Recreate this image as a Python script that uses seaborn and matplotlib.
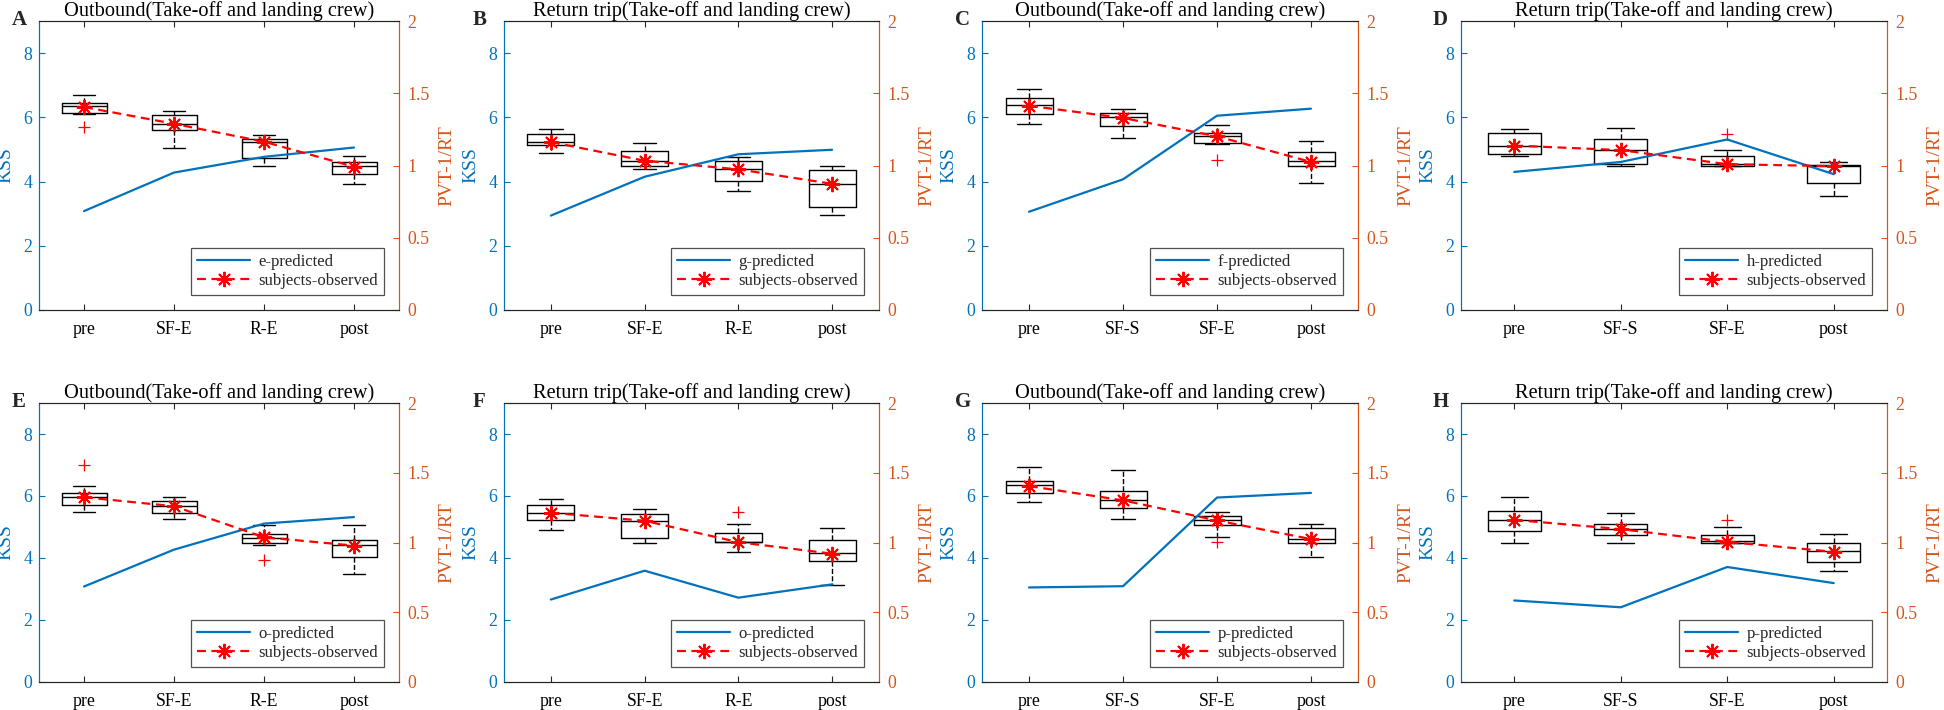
import matplotlib
matplotlib.use("Agg")
import matplotlib.pyplot as plt
import seaborn as sns
import numpy as np

sns.set_theme(style="white")
plt.rcParams["font.family"] = ["Liberation Serif", "DejaVu Serif"]
plt.rcParams["mathtext.fontset"] = "stix"

KSS_BLUE = "#0072BD"
PVT_ORANGE = "#D95319"

letters = ["A", "B", "C", "D", "E", "F", "G", "H"]
titles = ["Outbound(Take-off and landing crew)", "Return trip(Take-off and landing crew)"] * 4
cats_ab = ["pre", "SF-E", "R-E", "post"]
cats_cd = ["pre", "SF-S", "SF-E", "post"]
tick_sets = [cats_ab, cats_ab, cats_cd, cats_cd, cats_ab, cats_ab, cats_cd, cats_cd]
pred_labels = ["e-predicted", "g-predicted", "f-predicted", "h-predicted",
               "o-predicted", "o-predicted", "p-predicted", "p-predicted"]

# predicted KSS (blue line)
pred_A = [3.08, 4.28, 4.77, 5.06]
pred_B = [2.94, 4.15, 4.85, 4.99]
pred_C = [3.06, 4.07, 6.05, 6.27]
pred_D = [4.30, 4.61, 5.31, 4.23]
pred_E = [3.08, 4.27, 5.11, 5.32]
pred_F = [2.66, 3.59, 2.72, 3.15]
pred_G = [3.05, 3.09, 5.95, 6.10]
pred_H = [2.63, 2.41, 3.71, 3.19]

# observed means (red asterisks), KSS scale
obs_A = [6.32, 5.80, 5.24, 4.46]
obs_B = [5.23, 4.65, 4.38, 3.93]
obs_C = [6.36, 5.98, 5.41, 4.61]
obs_D = [5.12, 4.98, 4.54, 4.48]
obs_E = [5.96, 5.67, 4.67, 4.40]
obs_F = [5.46, 5.20, 4.51, 4.14]
obs_G = [6.32, 5.86, 5.21, 4.61]
obs_H = [5.23, 4.93, 4.52, 4.20]

# box statistics per panel: lower whisker, q1, median, q3, upper whisker
whislo_A = [6.11, 5.04, 4.49, 3.91]
q1_A = [6.15, 5.61, 4.73, 4.24]
med_A = [6.34, 5.80, 5.24, 4.48]
q3_A = [6.46, 6.07, 5.33, 4.62]
whishi_A = [6.69, 6.20, 5.44, 4.80]
fliers_A = [[5.70], [], [], []]

whislo_B = [4.89, 4.40, 3.72, 2.95]
q1_B = [5.13, 4.48, 4.01, 3.22]
med_B = [5.23, 4.65, 4.40, 3.93]
q3_B = [5.49, 4.95, 4.63, 4.35]
whishi_B = [5.63, 5.20, 4.77, 4.49]
fliers_B = [[], [], [], []]

whislo_C = [5.80, 5.36, 5.16, 3.95]
q1_C = [6.09, 5.73, 5.21, 4.50]
med_C = [6.37, 6.01, 5.41, 4.63]
q3_C = [6.60, 6.13, 5.52, 4.92]
whishi_C = [6.88, 6.25, 5.75, 5.25]
fliers_C = [[], [], [4.68], []]

whislo_D = [4.80, 4.49, 4.49, 3.54]
q1_D = [4.85, 4.54, 4.49, 3.96]
med_D = [5.12, 4.98, 4.56, 4.50]
q3_D = [5.52, 5.31, 4.81, 4.52]
whishi_D = [5.63, 5.67, 4.98, 4.62]
fliers_D = [[], [], [5.47], []]

whislo_E = [5.48, 5.26, 4.41, 3.47]
q1_E = [5.71, 5.45, 4.49, 4.02]
med_E = [5.98, 5.69, 4.65, 4.43]
q3_E = [6.11, 5.85, 4.77, 4.59]
whishi_E = [6.33, 5.98, 5.05, 5.05]
fliers_E = [[7.00], [], [3.94], []]

whislo_F = [4.91, 4.47, 4.20, 3.13]
q1_F = [5.21, 4.64, 4.51, 3.91]
med_F = [5.46, 5.20, 4.52, 4.15]
q3_F = [5.71, 5.43, 4.81, 4.59]
whishi_F = [5.89, 5.59, 5.09, 4.98]
fliers_F = [[], [], [5.47], []]

whislo_G = [5.80, 5.26, 4.69, 4.02]
q1_G = [6.11, 5.62, 5.05, 4.50]
med_G = [6.34, 5.86, 5.21, 4.61]
q3_G = [6.48, 6.15, 5.35, 4.98]
whishi_G = [6.93, 6.84, 5.48, 5.09]
fliers_G = [[], [], [4.51], []]

whislo_H = [4.50, 4.50, 4.47, 3.57]
q1_H = [4.87, 4.73, 4.50, 3.88]
med_H = [5.23, 4.93, 4.54, 4.21]
q3_H = [5.53, 5.09, 4.74, 4.50]
whishi_H = [5.98, 5.44, 4.99, 4.77]
fliers_H = [[], [], [5.23], []]

panels = [
    (pred_A, obs_A, whislo_A, q1_A, med_A, q3_A, whishi_A, fliers_A),
    (pred_B, obs_B, whislo_B, q1_B, med_B, q3_B, whishi_B, fliers_B),
    (pred_C, obs_C, whislo_C, q1_C, med_C, q3_C, whishi_C, fliers_C),
    (pred_D, obs_D, whislo_D, q1_D, med_D, q3_D, whishi_D, fliers_D),
    (pred_E, obs_E, whislo_E, q1_E, med_E, q3_E, whishi_E, fliers_E),
    (pred_F, obs_F, whislo_F, q1_F, med_F, q3_F, whishi_F, fliers_F),
    (pred_G, obs_G, whislo_G, q1_G, med_G, q3_G, whishi_G, fliers_G),
    (pred_H, obs_H, whislo_H, q1_H, med_H, q3_H, whishi_H, fliers_H),
]

W, H = 1944, 710
fig = plt.figure(figsize=(W / 100, H / 100), dpi=100)

# axes boxes in pixels: left, width ; rows: top, bottom
col_px = [(39, 360), (504, 375), (982, 376), (1461, 426)]
row_px = [(21, 310), (403, 682)]
letter_x = [12, 473, 955, 1433]
letter_y = [20, 402]

positions = [1, 2, 3, 4]

for i, (pred, obs, wlo, q1, med, q3, whi, fl) in enumerate(panels):
    r, c = divmod(i, 4)
    left, width = col_px[c]
    top, bottom = row_px[r]
    ax = fig.add_axes([left / W, 1 - bottom / H, width / W, (bottom - top) / H])
    ax2 = ax.twinx()

    stats = []
    for k in range(4):
        stats.append(dict(whislo=wlo[k], q1=q1[k], med=med[k], q3=q3[k],
                          whishi=whi[k], fliers=fl[k]))
    ax.bxp(stats, positions=positions, widths=0.5, showfliers=True,
           boxprops=dict(color="black", linewidth=1.0),
           medianprops=dict(color="black", linewidth=1.0),
           whiskerprops=dict(color="black", linewidth=1.0, linestyle="--"),
           capprops=dict(color="black", linewidth=1.0),
           capwidths=0.25,
           flierprops=dict(marker="+", markeredgecolor="red", markersize=9,
                           markeredgewidth=0.9, linestyle="none"),
           manage_ticks=False, zorder=2)

    sns.lineplot(x=positions, y=pred, ax=ax, color=KSS_BLUE, linewidth=1.6,
                 label=pred_labels[i], zorder=3)
    sns.lineplot(x=positions, y=obs, ax=ax, color="red", linewidth=1.6,
                 linestyle="--", marker=(8, 2, 0), markersize=11,
                 markeredgewidth=1.4, markeredgecolor="red",
                 label="subjects-observed", zorder=4)
    ax.lines[-1].set_dashes([4, 2.5])

    ax.set_xlim(0.5, 4.5)
    ax.set_ylim(0, 9)
    ax.set_yticks([0, 2, 4, 6, 8])
    ax.set_xticks(positions)
    ax.set_xticklabels(tick_sets[i])
    ax2.set_ylim(0, 2)
    ax2.set_yticks([0, 0.5, 1, 1.5, 2])
    ax2.set_yticklabels(["0", "0.5", "1", "1.5", "2"])

    ax.tick_params(axis="x", direction="in", length=4, width=0.8, top=True,
                   bottom=True, labelsize=12.8, colors="#262626", labelcolor="black", pad=8)
    ax.tick_params(axis="y", direction="in", length=4, width=0.8, colors=KSS_BLUE,
                   labelsize=12.8, pad=5)
    ax2.tick_params(axis="y", direction="in", length=4, width=0.8, colors=PVT_ORANGE,
                    labelsize=12.8, pad=6)

    for a in (ax, ax2):
        for s in a.spines.values():
            s.set_linewidth(0.8)
        a.spines["top"].set_color("#262626")
        a.spines["bottom"].set_color("#262626")
        a.spines["left"].set_color(KSS_BLUE)
        a.spines["right"].set_color(PVT_ORANGE)
    ax.grid(False)
    ax2.grid(False)

    ax.set_ylabel("KSS", color=KSS_BLUE, fontsize=14, labelpad=6)
    ax2.set_ylabel("PVT-1/RT", color=PVT_ORANGE, fontsize=14, labelpad=6)
    ax.set_title(titles[i], fontsize=14.7, color="black", pad=3)

    leg = ax.legend(loc="lower right", fontsize=12, frameon=True, fancybox=False,
                    handlelength=3.2, borderaxespad=0.9, borderpad=0.35,
                    labelspacing=0.2, handletextpad=0.5)
    leg.get_frame().set_edgecolor("#262626")
    leg.get_frame().set_linewidth(0.9)
    leg.set_zorder(10)

    fig.text(letter_x[c] / W, 1 - letter_y[r] / H, letters[i], fontsize=15,
             fontweight="bold", ha="left", va="center")

fig.savefig("out.png", dpi=100)
